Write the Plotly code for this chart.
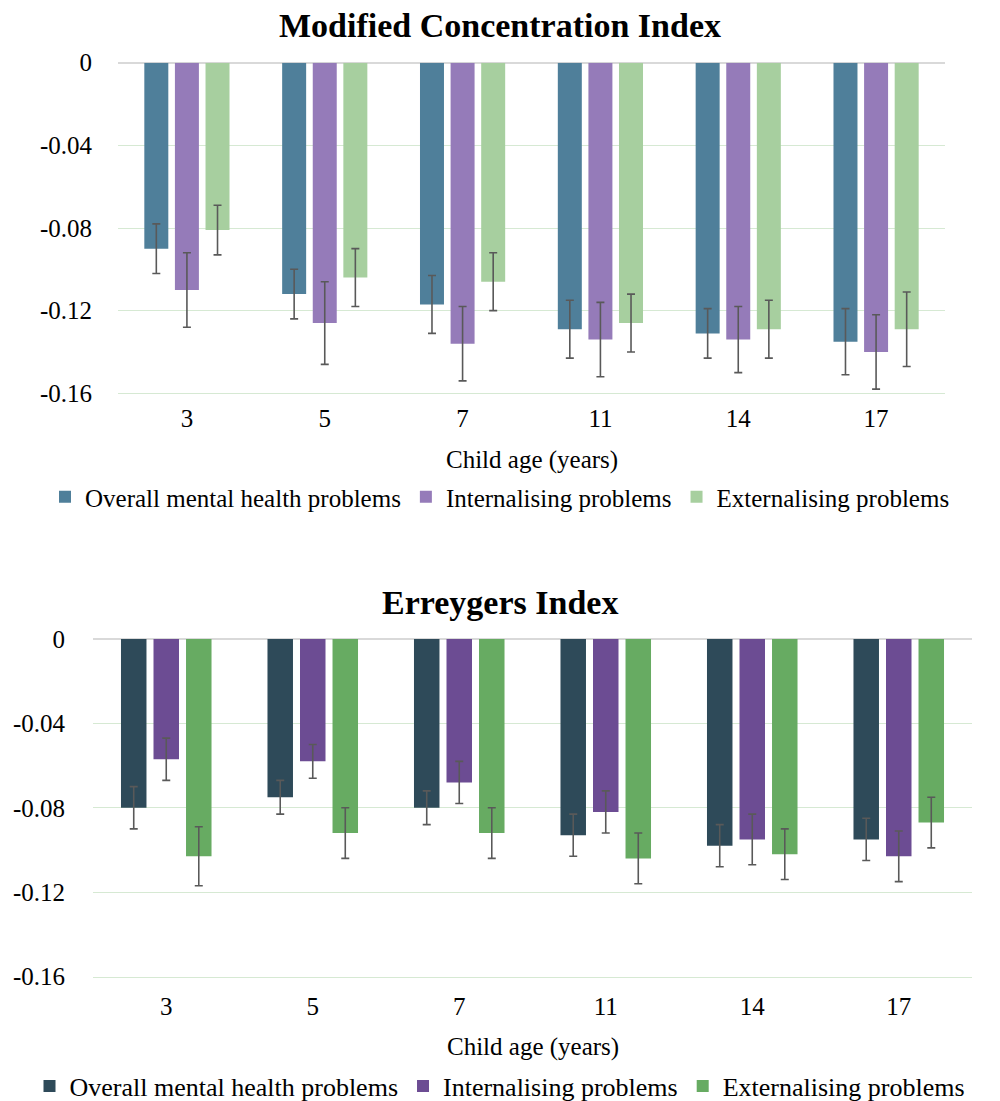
import plotly.graph_objects as go

# Child age groups (years)
ages = ["3", "5", "7", "11", "14", "17"]
series_names = ["Overall mental health problems", "Internalising problems", "Externalising problems"]

# Modified Concentration Index: estimates and 95% CI half-widths
mci_overall = [-0.090, -0.112, -0.117, -0.129, -0.131, -0.135]
mci_overall_err = [0.012, 0.012, 0.014, 0.014, 0.012, 0.016]
mci_intern = [-0.110, -0.126, -0.136, -0.134, -0.134, -0.140]
mci_intern_err = [0.018, 0.020, 0.018, 0.018, 0.016, 0.018]
mci_extern = [-0.081, -0.104, -0.106, -0.126, -0.129, -0.129]
mci_extern_err = [0.012, 0.014, 0.014, 0.014, 0.014, 0.018]

# Erreygers Index: estimates and 95% CI half-widths
ei_overall = [-0.080, -0.075, -0.080, -0.093, -0.098, -0.095]
ei_overall_err = [0.010, 0.008, 0.008, 0.010, 0.010, 0.010]
ei_intern = [-0.057, -0.058, -0.068, -0.082, -0.095, -0.103]
ei_intern_err = [0.010, 0.008, 0.010, 0.010, 0.012, 0.012]
ei_extern = [-0.103, -0.092, -0.092, -0.104, -0.102, -0.087]
ei_extern_err = [0.014, 0.012, 0.012, 0.012, 0.012, 0.012]

y_ticks = [0, -0.04, -0.08, -0.12, -0.16]
y_tick_text = ["0", "-0.04", "-0.08", "-0.12", "-0.16"]

top_colors = ["#4f7f9a", "#957bb9", "#a7cf9f"]
bottom_colors = ["#2e4a59", "#6c4c93", "#67ab62"]

FONT = "Liberation Serif, Times New Roman, serif"
W, H = 1000, 1101

def py(pix):
    return 1 - pix / H

fig = go.Figure()

top_sets = [(mci_overall, mci_overall_err), (mci_intern, mci_intern_err), (mci_extern, mci_extern_err)]
bottom_sets = [(ei_overall, ei_overall_err), (ei_intern, ei_intern_err), (ei_extern, ei_extern_err)]

for name, (vals, errs), col in zip(series_names, top_sets, top_colors):
    fig.add_trace(go.Bar(
        x=ages, y=vals, name=name, marker=dict(color=col, line=dict(width=0)),
        error_y=dict(type="data", array=errs, symmetric=True, color="#595959", thickness=1.6, width=4),
        xaxis="x", yaxis="y", legend="legend",
    ))

for name, (vals, errs), col in zip(series_names, bottom_sets, bottom_colors):
    fig.add_trace(go.Bar(
        x=ages, y=vals, name=name, marker=dict(color=col, line=dict(width=0)),
        error_y=dict(type="data", array=errs, symmetric=True, color="#595959", thickness=1.6, width=4),
        xaxis="x2", yaxis="y2", legend="legend2",
    ))

grid = "#d6e9d3"
yax_common = dict(
    range=[-0.16, 0], tickvals=y_ticks, ticktext=y_tick_text,
    showgrid=True, gridcolor=grid, gridwidth=1.3,
    zeroline=True, zerolinecolor="#d9d9d9", zerolinewidth=1.5,
    showline=False, ticks="outside", tickcolor="rgba(0,0,0,0)",
    tickfont=dict(family=FONT, size=25, color="#000000"),
)
# the category axis line doubles as the bottom (-0.16) gridline
xax_common = dict(
    type="category", showgrid=False, zeroline=False,
    showline=True, linecolor=grid, linewidth=1.3,
    ticks="outside", tickcolor="rgba(0,0,0,0)",
    tickfont=dict(family=FONT, size=25, color="#000000"),
)

fig.update_layout(
    width=W, height=H,
    margin=dict(l=0, r=0, t=0, b=0, autoexpand=False),
    paper_bgcolor="white", plot_bgcolor="white",
    barmode="group", bargap=0.334, bargroupgap=0.216,
    font=dict(family=FONT, color="#000000"),
    xaxis=dict(domain=[0.118, 0.945], anchor="y", ticklen=3, **xax_common),
    yaxis=dict(domain=[py(393.3), py(62.7)], anchor="x", ticklen=20, **yax_common),
    xaxis2=dict(domain=[0.093, 0.972], anchor="y2", ticklen=7, **xax_common),
    yaxis2=dict(domain=[py(976.5), py(639)], anchor="x2", ticklen=22, **yax_common),
    legend=dict(
        orientation="h", x=0.5, xanchor="center", y=py(497), yanchor="middle",
        font=dict(family=FONT, size=25, color="#000000"), itemwidth=30,
        bgcolor="rgba(0,0,0,0)", traceorder="normal",
    ),
    legend2=dict(
        orientation="h", x=0.5, xanchor="center", y=py(1086), yanchor="middle",
        font=dict(family=FONT, size=26, color="#000000"), itemwidth=30,
        bgcolor="rgba(0,0,0,0)", traceorder="normal",
    ),
    annotations=[
        dict(text="Modified Concentration Index", x=0.5, y=py(25), xref="paper", yref="paper",
             xanchor="center", yanchor="middle", showarrow=False,
             font=dict(family=FONT, size=34, color="#000000", weight="bold")),
        dict(text="Erreygers Index", x=0.5, y=py(602), xref="paper", yref="paper",
             xanchor="center", yanchor="middle", showarrow=False,
             font=dict(family=FONT, size=34, color="#000000", weight="bold")),
        dict(text="Child age (years)", x=0.5315, y=py(460), xref="paper", yref="paper",
             xanchor="center", yanchor="middle", showarrow=False,
             font=dict(family=FONT, size=25, color="#000000")),
        dict(text="Child age (years)", x=0.5325, y=py(1047), xref="paper", yref="paper",
             xanchor="center", yanchor="middle", showarrow=False,
             font=dict(family=FONT, size=25, color="#000000")),
    ],
)

fig.write_html("out.html")
